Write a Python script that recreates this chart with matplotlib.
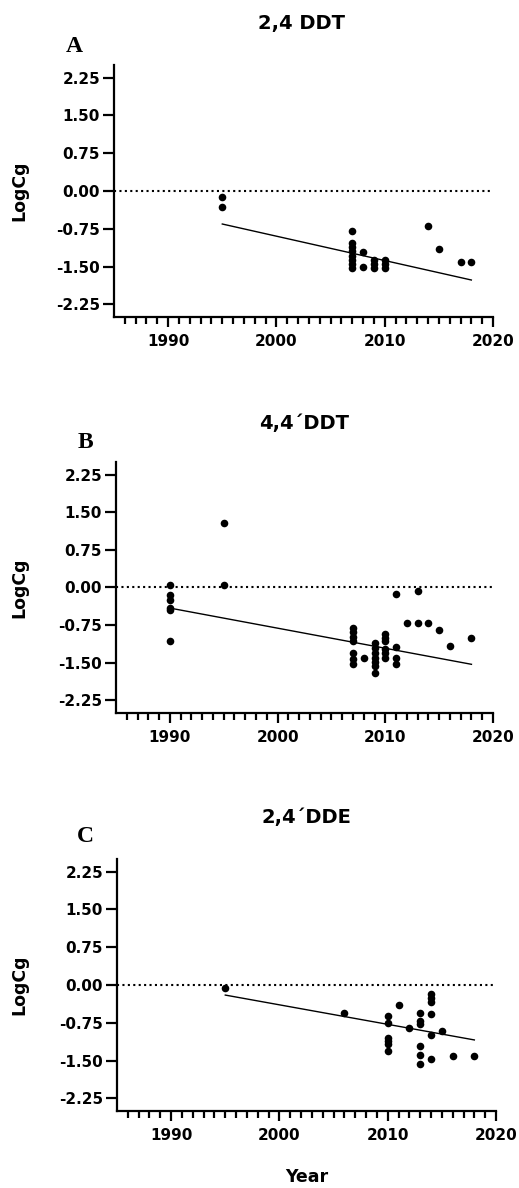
import matplotlib
matplotlib.use("Agg")
import matplotlib.pyplot as plt
from matplotlib.ticker import FixedLocator

# ---------------- data ----------------
titles = ["2,4 DDT", "4,4\u00b4DDT", "2,4\u00b4DDE"]
letters = ["A", "B", "C"]

a_years = [1995, 1995,
           2007, 2007, 2007, 2007, 2007, 2007, 2007, 2007,
           2008, 2008, 2009, 2009, 2009, 2010, 2010, 2010,
           2014, 2015, 2017, 2018]
a_vals = [-0.11, -0.32,
          -0.79, -1.04, -1.12, -1.20, -1.29, -1.37, -1.45, -1.53,
          -1.22, -1.51, -1.37, -1.45, -1.53, -1.37, -1.45, -1.53,
          -0.70, -1.16, -1.40, -1.40]
a_fit_years = [1995, 2018]
a_fit_vals = [-0.655, -1.766]

b_years = [1990, 1990, 1990, 1990, 1990, 1990,
           1995, 1995,
           2007, 2007, 2007, 2007, 2007, 2007, 2007,
           2008,
           2009, 2009, 2009, 2009, 2009, 2009, 2009,
           2010, 2010, 2010, 2010, 2010, 2010,
           2011, 2011, 2011, 2011,
           2012, 2013, 2013, 2014, 2015, 2016, 2018]
b_vals = [0.04, -0.15, -0.25, -0.40, -0.45, -1.06,
          1.29, 0.04,
          -0.81, -0.89, -0.98, -1.06, -1.31, -1.42, -1.53,
          -1.41,
          -1.11, -1.20, -1.31, -1.40, -1.49, -1.57, -1.71,
          -0.93, -1.00, -1.06, -1.22, -1.30, -1.40,
          -0.12, -1.18, -1.40, -1.53,
          -0.71, -0.07, -0.71, -0.71, -0.84, -1.16, -1.00]
b_fit_years = [1990, 2018]
b_fit_vals = [-0.41, -1.53]

c_years = [1995, 2006,
           2010, 2010, 2010, 2010, 2010, 2010,
           2011, 2012,
           2013, 2013, 2013, 2013, 2013, 2013,
           2014, 2014, 2014, 2014, 2014, 2014,
           2015, 2016, 2018]
c_vals = [-0.05, -0.55,
          -0.62, -0.75, -1.05, -1.11, -1.18, -1.31,
          -0.40, -0.86,
          -0.55, -0.71, -0.78, -1.21, -1.39, -1.56,
          -0.18, -0.25, -0.33, -0.57, -1.00, -1.46,
          -0.92, -1.40, -1.40]
c_fit_years = [1995, 2018]
c_fit_vals = [-0.20, -1.09]

y_ticks = [-2.25, -1.50, -0.75, 0.00, 0.75, 1.50, 2.25]
y_ticklabels = ["-2.25", "-1.50", "-0.75", "0.00", "0.75", "1.50", "2.25"]
x_ticks = [1990, 2000, 2010, 2020]
x_ticklabels = ["1990", "2000", "2010", "2020"]
y_label = "LogCg"
x_label = "Year"

# ---------------- figure ----------------
W, H = 519, 1188
plt.rcParams['font.family'] = ['DejaVu Sans']
fig = plt.figure(figsize=(W / 100, H / 100), dpi=100)

# axes boxes in pixels: left, top, right, bottom
boxes = [(114, 65, 493, 317), (116, 462, 493, 713), (117, 859, 496, 1111)]
title_pos = [(302, 24), (304, 423), (306, 818)]
letter_pos = [(74, 47), (85, 442), (85, 836)]

panels = [(a_years, a_vals, a_fit_years, a_fit_vals),
          (b_years, b_vals, b_fit_years, b_fit_vals),
          (c_years, c_vals, c_fit_years, c_fit_vals)]

for i, ((xs, ys, fx, fy), (l, t, r, b)) in enumerate(zip(panels, boxes)):
    ax = fig.add_axes([l / W, 1 - b / H, (r - l) / W, (b - t) / H])
    ax.set_xlim(1985, 2020)
    ax.set_ylim(-2.5, 2.5)
    ax.axhline(0, color='black', linestyle=(0, (1, 1.6)), linewidth=1.5, zorder=1)
    ax.plot(fx, fy, color='black', linewidth=1.0, zorder=2)
    ax.scatter(xs, ys, s=30, color='black', zorder=3, linewidths=0, clip_on=False)

    for side in ['top', 'right']:
        ax.spines[side].set_visible(False)
    for side in ['left', 'bottom']:
        ax.spines[side].set_linewidth(1.6)

    ax.set_yticks(y_ticks)
    ax.set_yticklabels(y_ticklabels, fontsize=11, fontweight='bold')
    ax.set_xticks(x_ticks)
    ax.set_xticklabels(x_ticklabels, fontsize=11, fontweight='bold')
    ax.xaxis.set_minor_locator(FixedLocator([y for y in range(1986, 2020) if y % 10 != 0]))
    ax.tick_params(axis='y', which='major', length=8, width=1.6, pad=2)
    ax.tick_params(axis='x', which='major', length=7.5, width=1.6, pad=5)
    ax.tick_params(axis='x', which='minor', length=5, width=1.6)

    fig.text(19 / W, 1 - ((t + b) / 2) / H, y_label, fontsize=12.5, fontweight='bold',
             rotation=90, ha='center', va='center')

    tx, ty = title_pos[i]
    fig.text(tx / W, 1 - ty / H, titles[i], fontsize=14, fontweight='bold',
             ha='center', va='center')
    lx, ly = letter_pos[i]
    fig.text(lx / W, 1 - ly / H, letters[i], fontsize=17, fontweight='bold',
             family=['Liberation Serif', 'DejaVu Serif'], ha='center', va='center')

fig.text(307 / W, 1 - 1177 / H, x_label, fontsize=12.5, fontweight='bold',
         ha='center', va='center')

fig.savefig("out.png", dpi=100)
